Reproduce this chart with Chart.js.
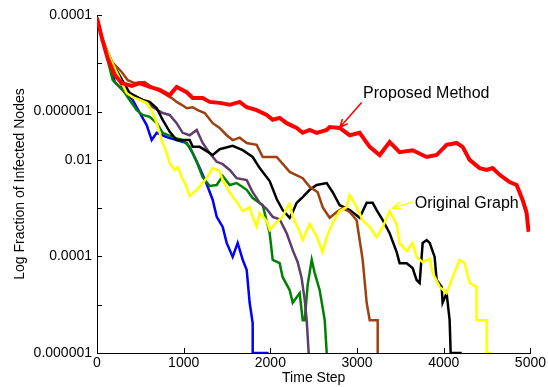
<!DOCTYPE html>
<html>
<head>
<meta charset="utf-8">
<script src="https://cdn.jsdelivr.net/npm/chart.js@4"></script>
<style>
  body { margin: 0; background: #fff; }
  canvas { display: block; }
</style>
</head>
<body>
<canvas id="spread" width="548" height="387"></canvas>
<script>
// y is in "decade" steps counted from the bottom of the axis (0..7)
const yTickLabels = ['0.000001', '', '0.0001', '', '0.01', '0.000001', '', '0.0001'];
const xTicks = [0, 1000, 2000, 3000, 4000, 5000];

const redT = [0,60,123,204,285,400,494,608,723,839,919,1035,1104,1219,1300,1415,1531,1646,1727,1842,1958,2027,2107,2188,2304,2373,2454,2534,2650,2684,2800,2915,3030,3146,3261,3376,3491,3641,3803,3918,4033,4149,4218,4299,4414,4495,4564,4645,4760,4841,4910,4956,4979];
const redV = [6.94,6.5,6.11,5.76,5.59,5.53,5.59,5.51,5.45,5.34,5.51,5.40,5.28,5.28,5.20,5.18,5.14,5.20,5.09,5.03,4.93,4.83,4.87,4.76,4.66,4.56,4.62,4.56,4.62,4.68,4.66,4.51,4.56,4.27,4.10,4.37,4.16,4.20,4.06,4.10,4.31,4.35,4.27,4.00,3.83,3.79,3.83,3.69,3.54,3.48,3.17,2.90,2.51];

const brownT = [0,60,170,285,354,435,550,631,746,862,919,977,1035,1104,1162,1243,1335,1415,1496,1565,1646,1727,1842,1912,2073,2223,2373,2454,2546,2603,2684,2765,2834,2915,2995,3030,3065,3111,3146,3238,3238];
const brownV = [6.94,6.5,6.03,5.82,5.65,5.59,5.61,5.51,5.40,5.28,5.20,5.14,5.07,5.09,5.03,4.97,4.76,4.66,4.51,4.41,4.46,4.35,4.31,4.06,4.06,3.75,3.62,3.44,3.33,3.02,2.80,2.92,3.00,2.92,2.75,2.34,1.93,1.04,0.68,0.68,0];

const blackT = [0,60,170,377,527,608,689,758,839,919,1069,1104,1185,1265,1335,1415,1565,1681,1796,1877,1992,2073,2142,2223,2258,2304,2373,2454,2534,2650,2719,2800,2915,3030,3111,3180,3226,3296,3376,3457,3491,3572,3641,3687,3722,3757,3803,3838,3895,3918,3976,3987,4033,4068,4080,4207];
const blackV = [6.94,6.5,6.03,5.38,5.24,5.20,5.07,4.83,4.58,4.41,4.41,4.27,4.27,4.18,4.10,4.22,4.29,4.20,4.06,3.83,3.56,3.19,2.96,2.80,2.92,3.11,3.23,3.38,3.48,3.52,3.33,3.06,2.96,2.80,3.11,3.11,2.96,2.75,2.48,2.09,1.86,1.86,1.76,1.51,1.45,2.28,2.34,2.28,1.99,1.51,1.37,1.04,1.24,0.68,0,0];

const yellowT = [0,60,170,343,412,494,573,608,643,689,723,758,804,839,896,931,988,1035,1069,1150,1219,1265,1335,1415,1450,1531,1611,1681,1761,1796,1842,1877,1958,1992,2073,2142,2188,2223,2258,2338,2373,2454,2534,2603,2650,2719,2800,2880,2915,2949,2995,3065,3146,3226,3296,3376,3457,3491,3572,3641,3687,3757,3838,3872,3953,4033,4103,4183,4241,4299,4379,4379,4495,4495,4553];
const yellowV = [6.94,6.5,6.03,5.38,5.30,5.24,5.18,5.09,4.97,4.76,4.56,4.35,4.14,3.93,3.79,3.85,3.60,3.44,3.25,3.38,3.52,3.62,3.83,3.77,3.58,3.33,3.13,2.94,3.02,2.82,2.61,2.90,2.73,2.55,2.71,2.82,3.00,3.09,2.82,2.51,2.34,2.67,2.42,2.09,2.40,2.69,2.94,3.02,3.27,3.17,3.02,2.75,2.61,2.40,2.61,2.94,2.67,2.28,2.11,2.28,1.99,1.88,1.95,1.66,1.37,1.24,1.57,1.93,1.86,1.45,1.37,0.68,0.68,0,0];

const purpleT = [0,60,170,296,412,527,643,758,839,919,988,1069,1150,1219,1300,1381,1450,1531,1611,1727,1796,1877,1958,2027,2107,2188,2258,2315,2361,2396,2419,2442];
const purpleV = [6.94,6.5,5.96,5.51,5.34,5.24,5.09,4.97,4.93,4.76,4.56,4.51,4.62,4.35,4.14,3.96,3.91,3.79,3.62,3.58,3.33,3.11,2.98,2.82,2.77,2.48,2.13,1.88,1.55,1.10,0.68,0];

const greenT = [0,60,182,296,377,458,527,608,689,758,873,988,1069,1150,1219,1300,1381,1450,1531,1611,1727,1796,1912,1992,2027,2107,2142,2223,2258,2338,2373,2396,2430,2477,2511,2569,2627,2650];
const greenV = [6.94,6.5,5.65,5.45,5.24,5.03,4.93,4.89,4.76,4.56,4.47,4.41,4.27,3.96,3.64,3.46,3.48,3.67,3.48,3.52,3.38,3.21,3.06,2.48,1.93,1.86,1.57,1.30,1.04,1.24,0.68,0.68,1.41,1.93,1.66,1.30,0.68,0];

const blueT = [0,60,205,296,412,494,573,631,689,804,919,1035,1104,1185,1265,1335,1381,1450,1496,1565,1623,1681,1727,1761,1796,1796,1980];
const blueV = [6.94,6.5,5.61,5.45,5.24,4.97,4.72,4.41,4.56,4.47,4.41,4.35,4.14,3.83,3.50,3.17,2.82,2.61,2.28,1.99,2.28,1.93,1.72,1.04,0.62,0,0];

function pts(ts, vs) {
  return ts.map((t, i) => ({ x: t, y: vs[i] }));
}

function series(label, ts, vs, color, width) {
  return {
    label: label,
    data: pts(ts, vs),
    borderColor: color,
    backgroundColor: color,
    borderWidth: width,
    pointRadius: 0,
    tension: 0,
    fill: false
  };
}

const notes = [
  { text: 'Proposed Method', color: '#ff0000', tx: 3070, ty: 5.38, from: [3053, 5.19], to: [2800, 4.67] },
  { text: 'Original Graph', color: '#ffff00', tx: 3665, ty: 3.10, from: [3645, 3.13], to: [3411, 3.00] }
];

const axisDecor = {
  id: 'axisDecor',
  afterDatasetsDraw(chart) {
    const ctx = chart.ctx;
    const xs = chart.scales.x, ys = chart.scales.y;
    const area = chart.chartArea;
    ctx.save();
    // inward tick marks
    ctx.strokeStyle = '#000';
    ctx.lineWidth = 1;
    ctx.beginPath();
    xs.ticks.forEach(t => {
      const px = Math.round(xs.getPixelForValue(t.value)) + 0.5;
      ctx.moveTo(px, area.bottom);
      ctx.lineTo(px, area.bottom - 5);
    });
    ys.ticks.forEach(t => {
      const py = Math.round(ys.getPixelForValue(t.value)) + 0.5;
      ctx.moveTo(area.left, py);
      ctx.lineTo(area.left + 5, py);
    });
    ctx.stroke();

    // text notes with arrows
    ctx.font = '16px "Liberation Sans", Arial, sans-serif';
    ctx.textBaseline = 'middle';
    ctx.textAlign = 'left';
    notes.forEach(n => {
      ctx.fillStyle = '#000';
      ctx.fillText(n.text, xs.getPixelForValue(n.tx), ys.getPixelForValue(n.ty));
      const x1 = xs.getPixelForValue(n.from[0]), y1 = ys.getPixelForValue(n.from[1]);
      const x2 = xs.getPixelForValue(n.to[0]), y2 = ys.getPixelForValue(n.to[1]);
      const a = Math.atan2(y2 - y1, x2 - x1);
      ctx.strokeStyle = n.color;
      ctx.lineWidth = 1.5;
      ctx.beginPath();
      ctx.moveTo(x1, y1);
      ctx.lineTo(x2, y2);
      ctx.moveTo(x2 - 9 * Math.cos(a - 0.4), y2 - 9 * Math.sin(a - 0.4));
      ctx.lineTo(x2, y2);
      ctx.lineTo(x2 - 9 * Math.cos(a + 0.4), y2 - 9 * Math.sin(a + 0.4));
      ctx.stroke();
    });
    ctx.restore();
  }
};

const font = { family: '"Liberation Sans", Arial, sans-serif', size: 14 };

const spreadChart = document.getElementById('spread').getContext('2d');
const spread = new Chart(spreadChart, {
  type: 'line',
  data: {
    datasets: [
      series('Proposed Method', redT, redV, '#ff0000', 4),
      series('Original Graph', yellowT, yellowV, '#ffff00', 2.5),
      series('brown', brownT, brownV, '#a0400f', 2.5),
      series('black', blackT, blackV, '#000000', 2.5),
      series('purple', purpleT, purpleV, '#5e3c6c', 2.5),
      series('green', greenT, greenV, '#008000', 2.5),
      series('blue', blueT, blueV, '#0000ff', 2.5)
    ]
  },
  options: {
    responsive: false,
    animation: false,
    devicePixelRatio: 1,
    layout: { padding: { top: 15, right: 17, left: 0, bottom: 0 } },
    plugins: {
      legend: { display: false },
      tooltip: { enabled: false }
    },
    scales: {
      x: {
        type: 'linear',
        min: 0,
        max: 5000,
        afterFit: s => { s.height = 34; },
        afterBuildTicks: s => { s.ticks = xTicks.map(v => ({ value: v })); },
        ticks: { color: '#000', font: font, padding: 2, maxRotation: 0, autoSkip: false, callback: v => String(v) },
        grid: { drawOnChartArea: false, drawTicks: false },
        border: { display: true, color: '#000', width: 1 },
        title: { display: true, text: 'Time Step', color: '#000', font: font, padding: 0 }
      },
      y: {
        type: 'linear',
        min: 0,
        max: 7,
        afterFit: s => { s.width = 97; },
        ticks: {
          stepSize: 1,
          color: '#000',
          font: font,
          padding: 5,
          autoSkip: false,
          callback: v => yTickLabels[v]
        },
        grid: { drawOnChartArea: false, drawTicks: false },
        border: { display: true, color: '#000', width: 1 },
        title: { display: true, text: 'Log Fraction of Infected Nodes', color: '#000', font: font, padding: { top: 12, bottom: 12 } }
      }
    }
  },
  plugins: [axisDecor]
});
</script>
</body>
</html>
